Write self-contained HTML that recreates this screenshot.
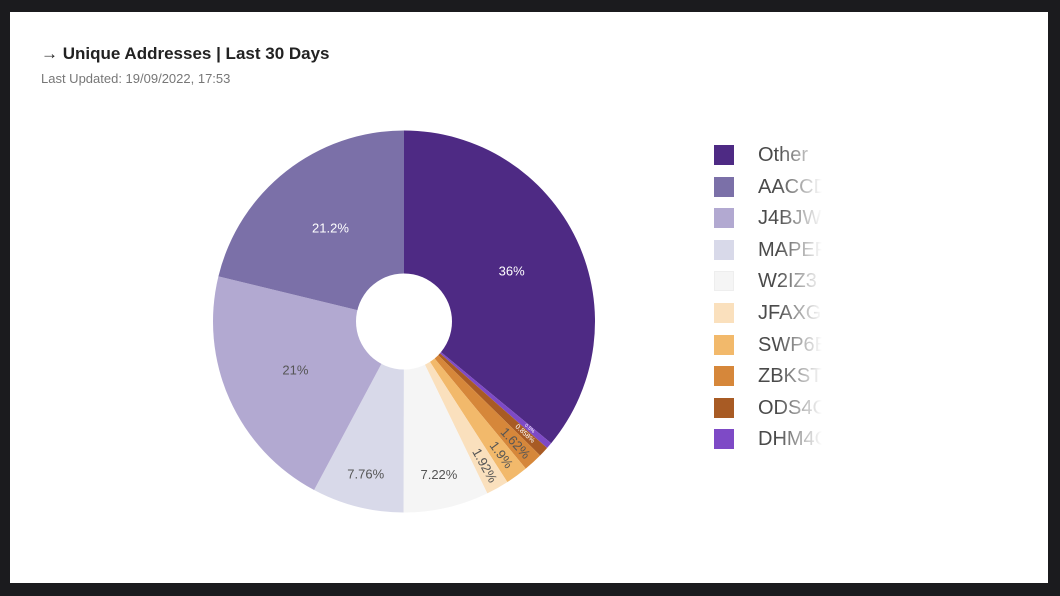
<!DOCTYPE html>
<html><head><meta charset="utf-8"><style>
html,body{margin:0;padding:0;background:#1b1b1e;}
#card{position:absolute;left:10px;top:12px;width:1038px;height:571px;background:#fff;font-family:"Liberation Sans",sans-serif;}
#title{position:absolute;left:31px;top:32px;font-size:17px;font-weight:bold;color:#222;}
#sub{position:absolute;left:31px;top:59px;font-size:13px;color:#777;}
.leg{position:absolute;left:704px;height:21px;}
.leg .sw{position:absolute;left:0;top:0;width:20px;height:20px;}
.leg .tx{position:absolute;left:44px;top:-1px;font-size:20px;color:#4a4a4a;white-space:nowrap;width:64px;overflow:hidden;
-webkit-mask-image:linear-gradient(to right,#000 30%,transparent 100%);mask-image:linear-gradient(to right,#000 30%,transparent 100%);}
</style></head><body>
<div id="card">
<div id="title">→ Unique Addresses | Last 30 Days</div>
<div id="sub">Last Updated: 19/09/2022, 17:53</div>
<svg id="pie" width="1038" height="571" style="position:absolute;left:0;top:0"></svg>
<div id="legend"></div>
</div>
<script>
const labels=["Other","AACCD","J4BJW","MAPEF","W2IZ3","JFAXG","SWP6E","ZBKST","ODS4C","DHM4C"];
const values=[36,21.2,21,7.76,7.22,1.92,1.9,1.62,0.858,0.52];
const valueLabels=["36%","21.2%","21%","7.76%","7.22%","1.92%","1.9%","1.62%","0.858%","0.5%"];
const colors=["#4e2a84","#7b70a8","#b2a9d1","#d8d9e9","#f5f5f5","#fae0bd","#f2b96b","#d6873a","#a85b24","#7e4ac6"];
const dark=[true,true,false,false,false,false,false,false,true,true];
const drawOrder=[0,9,8,7,6,5,4,3,2,1];
const NS="http://www.w3.org/2000/svg";
const svg=document.getElementById('pie');
const cx=394,cy=309.5,R=191,r0=48;
const total=values.reduce((a,b)=>a+b,0);
function pt(a,rad){return [cx+rad*Math.sin(a),cy-rad*Math.cos(a)];}
let acc=0;
drawOrder.forEach(i=>{
  const v=values[i];
  const a0=acc/total*2*Math.PI; acc+=v; const a1=acc/total*2*Math.PI;
  const [x0,y0]=pt(a0,R),[x1,y1]=pt(a1,R);
  const large=(a1-a0)>Math.PI?1:0;
  const p=document.createElementNS(NS,'path');
  p.setAttribute('d',`M${cx},${cy}L${x0},${y0}A${R},${R} 0 ${large} 1 ${x1},${y1}Z`);
  p.setAttribute('fill',colors[i]);
  
  
  svg.appendChild(p);
  const am=(a0+a1)/2; const small=v<3;
  const rad=small?165:(v<15?157:119);
  const [lx,ly]=pt(am,rad);
  const t=document.createElementNS(NS,'text');
  t.setAttribute('x',lx);t.setAttribute('y',ly);
  t.setAttribute('text-anchor','middle');t.setAttribute('dominant-baseline','central');
  t.setAttribute('font-family','Liberation Sans, sans-serif');
  t.setAttribute('font-size',v<1?(v<0.7?5:7):13);
  t.setAttribute('fill',dark[i]?'#fff':'#555');
  if(small){let deg=am*180/Math.PI-90; if(deg>90)deg-=180; t.setAttribute('transform',`rotate(${deg} ${lx} ${ly})`);}
  t.textContent=valueLabels[i];
  
  
  svg.appendChild(t);
});
const hole=document.createElementNS(NS,'circle');
hole.setAttribute('cx',cx);hole.setAttribute('cy',cy);hole.setAttribute('r',r0);hole.setAttribute('fill','#fff');


svg.appendChild(hole);
const leg=document.getElementById('legend');
labels.forEach((l,i)=>{
  const d=document.createElement('div');d.className='leg';d.style.top=(133+i*31.6)+'px';
  
  
  d.innerHTML=`<div class="sw" style="background:${colors[i]};${i==4?'border:1px solid #eee;box-sizing:border-box':''}"></div><div class="tx">${l}</div>`;
  leg.appendChild(d);
});
</script>
</body></html>
